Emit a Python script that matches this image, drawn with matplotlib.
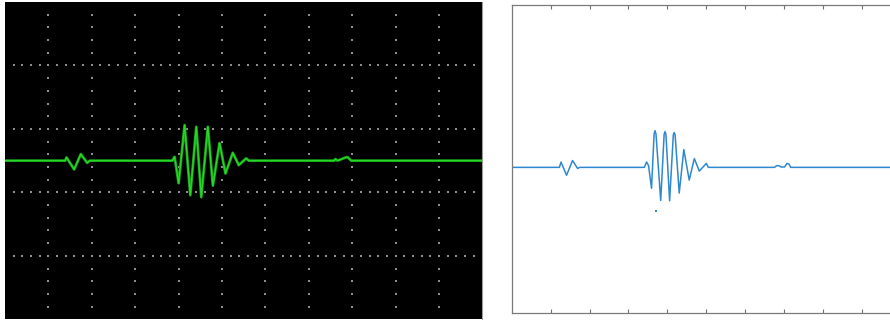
import numpy as np
from matplotlib import pyplot as plt

# left panel: oscilloscope trace, in screen divisions (11 x 5)
scope_t = [0.0, 1.387, 1.418, 1.594, 1.747, 1.893, 1.954,
           3.855, 3.908, 4.0, 4.138, 4.269, 4.407, 4.522, 4.674, 4.789,
           4.943, 5.08, 5.248, 5.386, 5.556, 5.616,
           7.586, 7.61, 7.66, 7.869, 7.9, 7.977, 11.0]
scope_v = [0.0, 0.0, 0.05, -0.139, 0.103, -0.035, 0.0,
           0.0, 0.06, -0.355, 0.56, -0.544, 0.533, -0.576, 0.533, -0.394,
           0.276, -0.202, 0.123, -0.071, 0.035, 0.0,
           0.0, 0.025, 0.0, 0.055, 0.05, 0.0, 0.0]

# right panel: reconstructed signal
sig_t = [0.0, 1.224, 1.267, 1.409, 1.563, 1.692, 1.756,
         3.409, 3.465, 3.517, 3.594, 3.66, 3.684, 3.708, 3.830,
         3.918, 3.941, 3.964, 4.059, 4.154, 4.177, 4.2, 4.306,
         4.424, 4.563, 4.694, 4.823, 5.003, 5.054,
         6.756, 6.807, 6.872, 6.923, 7.013, 7.077, 7.128, 7.172, 10.3]
sig_v = [0.0, 0.0, 0.147, -0.219, 0.189, -0.028, 0.0,
         0.0, 0.15, 0.05, -0.58, 0.93, 1.02, 0.93, -0.92,
         0.92, 0.994, 0.92, -0.93, 0.9, 0.967, 0.9, -0.714,
         0.494, -0.353, 0.244, -0.103, 0.111, 0.0,
         0.0, 0.045, 0.045, 0.01, 0.01, 0.11, 0.09, 0.0, 0.0]
stray_t = [3.702, 0.015]
stray_v = [-1.206, -2.25]

fig = plt.figure(figsize=(8.9, 3.2), dpi=100)

ax1 = fig.add_axes([0.0056, 0.0022, 0.5365, 0.9916])
ax1.set_facecolor('black')
ax1.set_xlim(0, 11)
ax1.set_ylim(-2.5, 2.5)
# graticule dots
gx = np.arange(1, 11)
gy = np.arange(-2.3, 2.31, 0.2)
vx, vy = np.meshgrid(gx, gy)
ax1.scatter(vx.ravel(), vy.ravel(), s=1.0, marker='s', color='#8e8e8e', linewidths=0)
hx = np.arange(0.2, 10.81, 0.2)
hy = np.array([-1.5, -0.5, 0.5, 1.5])
hxx, hyy = np.meshgrid(hx, hy)
ax1.scatter(hxx.ravel(), hyy.ravel(), s=1.0, marker='s', color='#8e8e8e', linewidths=0)
ax1.plot(scope_t, scope_v, color='#159f15', lw=2.0)
ax1.plot(scope_t, scope_v, color='#2ad82a', lw=0.9)
ax1.set_xticks([])
ax1.set_yticks([])
for s in ax1.spines.values():
    s.set_visible(False)
ax1.spines['right'].set_visible(True)
ax1.spines['right'].set_color('#9a9a9a')
ax1.spines['right'].set_linewidth(0.8)

ax2 = fig.add_axes([0.575, 0.0209, 0.437, 0.963])
ax2.plot(sig_t, sig_v, color='#2f87cf', lw=1.1)
ax2.plot(stray_t, stray_v, 's', color='#2f87cf', ms=1.5, mew=0)
ax2.set_xlim(0, 10)
ax2.set_ylim(-4.056, 4.508)
ax2.set_xticks(range(1, 10))
ax2.set_xticklabels([])
ax2.set_yticks([])
ax2.tick_params(axis='x', direction='in', top=True, bottom=True, length=3,
                width=0.8, color='#707070')
for s in ax2.spines.values():
    s.set_color('#7a7a7a')
    s.set_linewidth(0.9)

fig.savefig('out.png', dpi=100)
